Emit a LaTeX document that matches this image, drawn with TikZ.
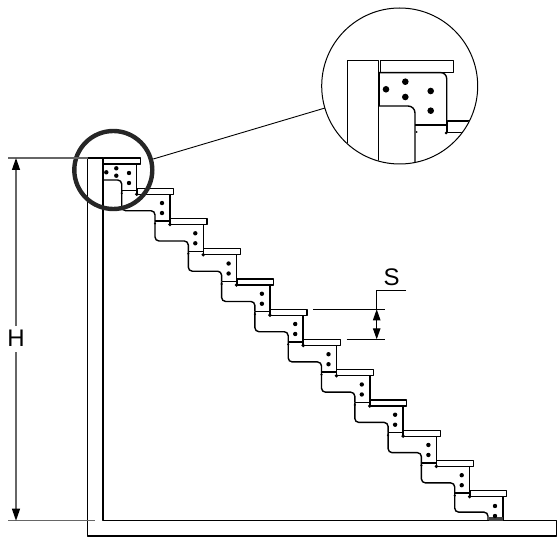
\documentclass[tikz,border=0pt]{standalone}
\usepackage{fontspec}
\setmainfont{Liberation Sans}
\usetikzlibrary{arrows.meta}
\tikzset{
  ln/.style={black,line width=1.2pt,line join=round},
  plate/.style={black,line width=1.4pt,rounded corners=4pt},
  dimn/.style={black!60,line width=1.3pt},
  dimarrow/.style={black,line width=1pt,-{Triangle[length=11pt,width=7.5pt]}},
  dimh/.style={black!60,line width=1.3pt,-{Triangle[length=12pt,width=8pt,color=black]}},
  dotm/.style={circle,fill=black,inner sep=0pt,minimum size=4.4pt},
  bigdot/.style={circle,fill=black,inner sep=0pt,minimum size=6.6pt},
  lab/.style={font=\fontsize{24}{24}\selectfont,inner sep=0pt,text=black}
}
\begin{document}
\begin{tikzpicture}[x=1pt,y=-1pt]
\useasboundingbox (0,0) rectangle (557,540);
\def\dx{33.3}\def\dy{30.24}
% wall and floor
\draw[ln] (87.7,536) -- (87.7,158) -- (103,158) -- (103,520.5) -- (556.7,520.5) -- (556.7,536) -- cycle;
% treads
\foreach \i in {0,...,11}{
  \pgfmathsetmacro{\tx}{103.7+\dx*\i}
  \pgfmathsetmacro{\ty}{158+\dy*\i}
  \draw[ln,fill=white] (\tx,\ty) rectangle ++(36.7,6);
}
% plates: right sides and stepped undersides
\foreach \i in {0,...,11}{
  \pgfmathsetmacro{\tx}{103.7+\dx*\i}
  \pgfmathsetmacro{\ty}{158+\dy*\i}
  \pgfmathsetmacro{\rx}{\tx+33}
  \pgfmathtruncatemacro{\last}{\i==11}
  \ifnum\last=0
    \draw[line width=1.5pt] (\rx,\ty+6) -- (\rx,\ty+\dy+6);
  \else
    \draw[line width=1.5pt] (\rx,\ty+6) -- (\rx,520);
  \fi
}
\foreach \i in {1,...,11}{
  \pgfmathsetmacro{\tx}{103.7+\dx*\i}
  \pgfmathsetmacro{\ty}{158+\dy*\i}
  \pgfmathsetmacro{\ax}{\tx-15.3}
  \pgfmathsetmacro{\ay}{\ty+2.5}
  \draw[line width=1.4pt] (\ax,\ay) -- (\tx,\ay);
  \fill (\tx-0.3,\ty+6) circle (1.9pt);
  \fill (\ax,\ay+2.5) circle (1.2pt);
  \pgfmathtruncatemacro{\last}{\i==11}
  \ifnum\last=0
    \draw[plate] (\ax,\ay) -- (\ax,\ty+22.5) -- (\ax+\dx,\ty+22.5) -- (\ax+\dx,\ay+\dy);
  \else
    \draw[plate] (\ax,\ay) -- (\ax,\ty+21.5) -- (\ax+\dx,\ty+21.5) -- (\ax+\dx,520.5);
  \fi
}
% first plate
\draw[plate] (103.5,180) -- (121.7,180) -- (121.7,192);
\draw[line width=1.8pt] (103.3,164) -- (103.3,180);
\fill[black!75] (488.5,517) rectangle (503,520.5);
% dots
\foreach \i in {1,...,10}{
  \pgfmathsetmacro{\tx}{103.7+\dx*\i}
  \pgfmathsetmacro{\ty}{158+\dy*\i}
  \node[dotm] (da\i) at (\tx+25,\ty+14.8) {};
  \node[dotm] (db\i) at (\tx+25,\ty+24.8) {};
}
\node[dotm] (dc1) at (495,506) {};
\node[dotm] (dc2) at (495,516) {};
\node[dotm] (t1) at (106.3,172.3) {};
\node[dotm] (t2) at (116.3,168.3) {};
\node[dotm] (t3) at (116.3,175.7) {};
\node[dotm] (t4) at (129,173) {};
\node[dotm] (t5) at (129,183) {};
% magnifier
\node[draw=black!85,line width=4.4pt,circle,minimum size=78pt,inner sep=0pt] (lens) at (113.3,170) {};
\node[draw=black,line width=1pt,fill=white,circle,minimum size=156pt,inner sep=0pt] (inset) at (399.7,86) {};
\coordinate (lensout) at (153.3,159);
\coordinate (insetin) at (325,108);
\draw[line width=0.9pt] (lensout) -- (insetin);
\begin{scope}
  \clip (399.7,86) circle (77.5pt);
  \draw[ln] (347.7,170) -- (347.7,60.7) -- (378.3,60.7) -- (378.3,170);
  \draw[ln] (380.7,60.7) rectangle (453.7,72.3);
  \draw[plate,rounded corners=6pt] (379,72.6) -- (446.7,72.6) -- (446.7,133);
  \draw[line width=1.6pt] (379,72.6) -- (379,106);
  \draw[plate,rounded corners=7pt] (379,106) -- (415,106) -- (415,170);
  \draw[line width=1.3pt] (415,125) -- (446.7,125);
  \draw[ln] (480,121) -- (447.3,121) -- (447.3,132.7) -- (480,132.7);
  \fill (416.7,132) circle (1pt);
  \fill (446,133) circle (1.5pt);
  \draw[line width=1.6pt] (446.5,125) -- (446.5,132);
  \node[bigdot] (i1) at (386,89.3) {};
  \node[bigdot] (i2) at (405.3,81.7) {};
  \node[bigdot] (i3) at (405.3,97) {};
  \node[bigdot] (i4) at (430.7,91) {};
  \node[bigdot] (i5) at (430.7,110.7) {};
\end{scope}
% dimension H
\coordinate (htop) at (16,158);
\coordinate (hbot) at (16,520.7);
\coordinate (hu) at (16,326);
\coordinate (hd) at (16,352);
\node[lab] (hl) at (16,338.7) {H};
\draw[dimn] (8,158) -- (88,158);
\draw[dimn] (8,520.7) -- (95,520.7);
\draw[dimh] (hu) -- (htop);
\draw[dimh] (hd) -- (hbot);
% dimension S
\node[lab] (sl) at (391.7,277) {S};
\coordinate (stop) at (376.7,309.3);
\coordinate (sbot) at (376.7,339.3);
\coordinate (smid) at (376.7,324);
\draw[black,line width=1pt] (406,290.7) -- (376.7,290.7) -- (stop);
\draw[black,line width=1pt] (313.3,309.3) -- (385,309.3);
\draw[black,line width=1pt] (346.7,339.3) -- (385,339.3);
\draw[dimarrow] (smid) -- (stop);
\draw[dimarrow] (smid) -- (sbot);
\end{tikzpicture}
\end{document}
